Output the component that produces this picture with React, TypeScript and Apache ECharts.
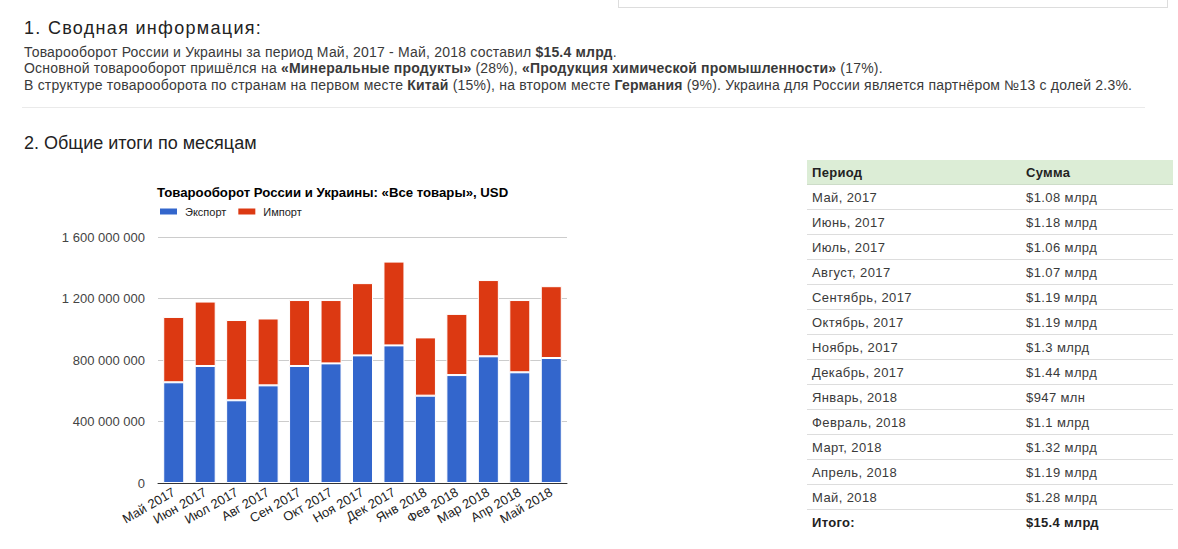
import React, { useEffect, useRef } from "react";
import * as echarts from "echarts";

const months = ["Май 2017", "Июн 2017", "Июл 2017", "Авг 2017", "Сен 2017", "Окт 2017", "Ноя 2017", "Дек 2017", "Янв 2018", "Фев 2018", "Мар 2018", "Апр 2018", "Май 2018"];
const exportValues = [655e6, 761e6, 538e6, 635e6, 761e6, 778e6, 830e6, 895e6, 568e6, 702e6, 824e6, 720e6, 813e6];
const importValues = [425e6, 419e6, 522e6, 435e6, 429e6, 412e6, 470e6, 545e6, 379e6, 398e6, 496e6, 470e6, 467e6];
const yTicks = [0, 400e6, 800e6, 1200e6, 1600e6];

const tablePeriods = ["Май, 2017", "Июнь, 2017", "Июль, 2017", "Август, 2017", "Сентябрь, 2017", "Октябрь, 2017", "Ноябрь, 2017", "Декабрь, 2017", "Январь, 2018", "Февраль, 2018", "Март, 2018", "Апрель, 2018", "Май, 2018"];
const tableSums = ["$1.08 млрд", "$1.18 млрд", "$1.06 млрд", "$1.07 млрд", "$1.19 млрд", "$1.19 млрд", "$1.3 млрд", "$1.44 млрд", "$947 млн", "$1.1 млрд", "$1.32 млрд", "$1.19 млрд", "$1.28 млрд"];
const totalLabel = "Итого:";
const totalSum = "$15.4 млрд";

const FONT = '"Liberation Sans", Arial, sans-serif';

function fmt(v: number): string {
  return String(v).replace(/\B(?=(\d{3})+(?!\d))/g, " ");
}

export default function App() {
  const ref = useRef<HTMLDivElement>(null);
  useEffect(() => {
    if (!ref.current) return;
    const chart = echarts.init(ref.current, null, { renderer: "svg" });
    chart.setOption({
      animation: false,
      textStyle: { fontFamily: FONT },
      title: {
        text: "Товарооборот России и Украины: «Все товары», USD",
        left: 157,
        top: 186,
        padding: 0,
        textStyle: { fontSize: 13.2, fontWeight: "bold", color: "#000", fontFamily: FONT },
      },
      legend: {
        left: 158,
        top: 206,
        padding: 0,
        icon: "rect",
        itemWidth: 19,
        itemHeight: 8,
        itemGap: 10,
        textStyle: { fontSize: 11, color: "#222", fontFamily: FONT, padding: [0, 0, 0, 2] },
        data: ["Экспорт", "Импорт"],
      },
      grid: { left: 158, right: 611, top: 237, bottom: 66, containLabel: false },
      xAxis: {
        type: "category",
        data: months,
        axisLine: { lineStyle: { color: "#333" } },
        axisTick: { show: false },
        axisLabel: { rotate: 30, fontSize: 13, color: "#222", margin: 8, interval: 0, fontFamily: FONT },
      },
      yAxis: {
        type: "value",
        min: yTicks[0],
        max: yTicks[yTicks.length - 1],
        interval: yTicks[1] - yTicks[0],
        axisLine: { show: false },
        axisTick: { show: false },
        splitLine: { lineStyle: { color: "#ccc" } },
        axisLabel: { fontSize: 13, color: "#444", margin: 13, formatter: (v: number) => fmt(v), fontFamily: FONT },
      },
      series: [
        {
          name: "Экспорт",
          type: "bar",
          stack: "total",
          barWidth: 21,
          data: exportValues,
          itemStyle: { color: "#3366cc", borderColor: "#fff", borderWidth: 1 },
        },
        {
          name: "Импорт",
          type: "bar",
          stack: "total",
          barWidth: 21,
          data: importValues,
          itemStyle: { color: "#dc3912", borderColor: "#fff", borderWidth: 1 },
        },
      ],
    });
    return () => chart.dispose();
  }, []);

  const textColor = "#3a3a3a";
  const line = (top: number, children: React.ReactNode) => (
    <div style={{ position: "absolute", left: 24, top, fontSize: 14, letterSpacing: "0.2px", lineHeight: "16px", color: textColor, whiteSpace: "nowrap" }}>{children}</div>
  );
  const cell1: React.CSSProperties = { width: 219, paddingLeft: 5, boxSizing: "border-box" };

  return (
    <div style={{ position: "absolute", left: 0, top: 0, width: 1178, height: 549, overflow: "hidden", background: "#fff", fontFamily: FONT }}>
      <div ref={ref} style={{ position: "absolute", left: 0, top: 0, width: 1178, height: 549 }} />
      <div style={{ position: "absolute", left: 618, top: -5, width: 550, height: 13, boxSizing: "border-box", border: "1px solid #ddd" }} />
      <div style={{ position: "absolute", left: 24, top: 17, fontSize: 18, letterSpacing: "1.3px", lineHeight: "22px", color: "#222", whiteSpace: "nowrap" }}>1. Сводная информация:</div>
      {line(44, <>Товарооборот России и Украины за период Май, 2017 - Май, 2018 составил <b>$15.4 млрд</b>.</>)}
      {line(60, <>Основной товарооборот пришёлся на <b>«Минеральные продукты»</b> (28%), <b>«Продукция химической промышленности»</b> (17%).</>)}
      {line(77, <>В структуре товарооборота по странам на первом месте <b>Китай</b> (15%), на втором месте <b>Германия</b> (9%). Украина для России является партнёром №13 с долей 2.3%.</>)}
      <div style={{ position: "absolute", left: 22, top: 107, width: 1123, height: 1, background: "#eaeaea" }} />
      <div style={{ position: "absolute", left: 24, top: 132, fontSize: 18, lineHeight: "22px", color: "#222", whiteSpace: "nowrap" }}>2. Общие итоги по месяцам</div>
      <div style={{ position: "absolute", left: 807, top: 160, width: 366 }}>
        <div style={{ height: 25, boxSizing: "border-box", background: "#dcedd6", borderBottom: "1px solid #cddcc8", display: "flex", alignItems: "center", fontWeight: "bold", fontSize: 13, letterSpacing: "0.3px", color: "#222" }}>
          <div style={cell1}>Период</div>
          <div>Сумма</div>
        </div>
        {tablePeriods.map((p, i) => (
          <div key={p} style={{ height: 25, boxSizing: "border-box", borderBottom: "1px solid #ddd", display: "flex", alignItems: "center", fontSize: 13, letterSpacing: "0.4px", color: textColor }}>
            <div style={cell1}>{p}</div>
            <div>{tableSums[i]}</div>
          </div>
        ))}
        <div style={{ height: 25, boxSizing: "border-box", display: "flex", alignItems: "center", fontSize: 13, letterSpacing: "0.3px", fontWeight: "bold", color: "#222" }}>
          <div style={cell1}>{totalLabel}</div>
          <div>{totalSum}</div>
        </div>
      </div>
    </div>
  );
}
